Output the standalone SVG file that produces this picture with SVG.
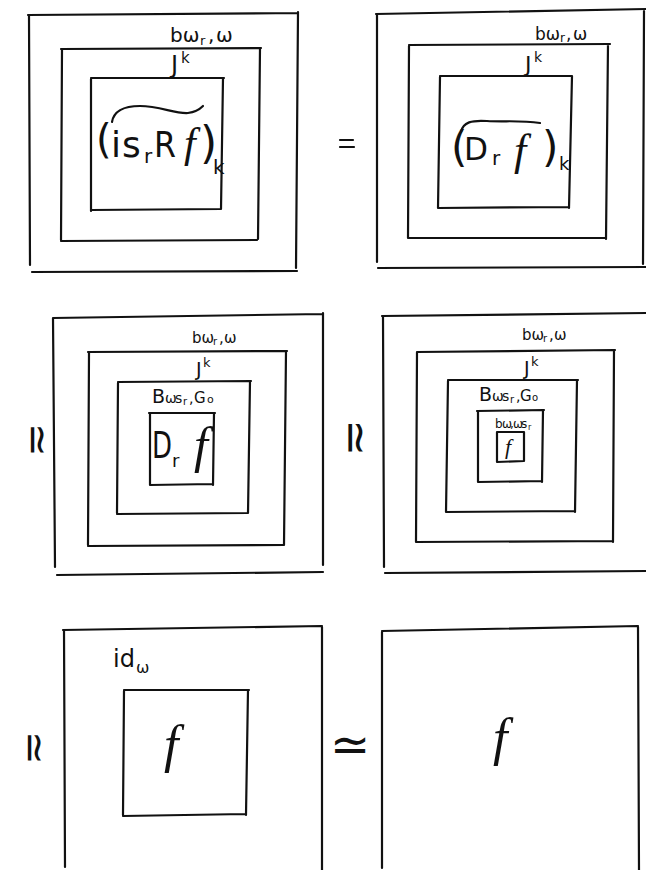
<svg xmlns="http://www.w3.org/2000/svg" width="646" height="870" viewBox="0 0 646 870">
<style>
.ln{fill:none;stroke:#111;stroke-width:2.2;stroke-linecap:round;stroke-linejoin:round}
.hw{font-family:"DejaVu Sans","Liberation Sans",sans-serif;fill:#111}
.fi{font-family:"Liberation Serif","DejaVu Serif",serif;font-style:italic;fill:#111}
.rel{font-family:"DejaVu Sans","Liberation Sans",sans-serif;fill:#111;text-anchor:middle;dominant-baseline:central}
</style>
<rect width="646" height="870" fill="#fff"/>

<g id="panel-tl">
<path class="ln" d="M28,15 L298,13 M29,16 L30,265 M298,12 L296,268 M32,272 L297,271"/>
<path class="ln" d="M61,49 L261,48 M62,49 L61,240 M260,48 L258,239 M61,241 L257,240"/>
<path class="ln" d="M91,78 L224,78 M91,79 L91,211 M223,78 L221,209 M91,210 L221,209"/>
<text class="hw" font-size="20"><tspan x="170" y="42">bω</tspan><tspan x="200" y="45" font-size="13">r</tspan><tspan x="208 216" y="42">,ω</tspan></text>
<text class="hw" font-size="24"><tspan x="171" y="73">J</tspan><tspan x="181" y="63" font-size="15">k</tspan></text>
<text class="hw" font-size="36"><tspan x="96" y="153" font-size="40">(</tspan><tspan x="111 122" y="157">is</tspan><tspan x="144" y="163" font-size="20">r</tspan><tspan x="154" y="157" textLength="22" lengthAdjust="spacingAndGlyphs">R</tspan></text>
<text class="fi" font-size="42" x="184" y="157">f</text>
<text class="hw" font-size="44" x="200" y="158">)</text>
<text class="hw" font-size="20" x="213" y="174">k</text>
<path class="ln" d="M112,122 C114,110 125,106 140,106 C160,106 175,114 188,113 C196,112 200,109 203,106"/>
</g>

<g id="panel-tr">
<path class="ln" d="M376,14 L646,9 M377,15 L377,262 M644,11 L643,264 M378,268 L646,267"/>
<path class="ln" d="M409,45 L610,44 M409,46 L408,238 M608,44 L606,239 M409,238 L606,238"/>
<path class="ln" d="M440,76 L572,76 M440,77 L438,208 M572,76 L569,208 M438,208 L569,207"/>
<text class="hw" font-size="17"><tspan x="535" y="40">bω</tspan><tspan x="560" y="42" font-size="12">r</tspan><tspan x="566 573" y="40">,ω</tspan></text>
<text class="hw" font-size="22"><tspan x="525" y="72">J</tspan><tspan x="534" y="62" font-size="14">k</tspan></text>
<text class="hw" font-size="42" x="451" y="162">(</text>
<text class="hw" font-size="32" x="464" y="160" textLength="24" lengthAdjust="spacingAndGlyphs">D</text>
<text class="hw" font-size="20" x="492" y="165">r</text>
<text class="fi" font-size="44" x="514" y="165">f</text>
<text class="hw" font-size="42" x="542" y="162">)</text>
<text class="hw" font-size="18" x="559" y="170">k</text>
<path class="ln" d="M461,132 C463,122 472,120 487,121 C505,122 520,120 540,123"/>
</g>

<g id="panel-ml">
<path class="ln" d="M53,318 L323,314 M53,318 L55,567 M323,313 L323,565 M57,575 L323,572"/>
<path class="ln" d="M88,352 L287,351 M89,353 L88,545 M286,351 L284,545 M88,546 L284,545"/>
<path class="ln" d="M118,382 L251,381 M118,383 L117,513 M250,381 L248,513 M117,514 L248,513"/>
<path class="ln" d="M149,413 L215,413 M150,414 L150,485 M214,413 L213,485 M150,485 L213,484"/>
<text class="hw" font-size="15"><tspan x="192" y="343">bω</tspan><tspan x="213" y="345" font-size="10">r</tspan><tspan x="219 224" y="343">,ω</tspan></text>
<text class="hw" font-size="19"><tspan x="196" y="376">J</tspan><tspan x="203" y="367" font-size="13">k</tspan></text>
<text class="hw" font-size="19"><tspan x="152" y="403">B</tspan><tspan x="165 175" y="403" font-size="14">ωs</tspan><tspan x="183" y="405" font-size="10">r</tspan><tspan x="189" y="403" font-size="14">,</tspan><tspan x="194" y="403" font-size="15">G</tspan><tspan x="207" y="403" font-size="11">o</tspan></text>
<text class="hw" font-size="38" x="152" y="458" textLength="20" lengthAdjust="spacingAndGlyphs">D</text>
<text class="hw" font-size="18" x="172" y="467">r</text>
<text class="fi" font-size="50" x="194" y="462">f</text>
</g>

<g id="panel-mr">
<path class="ln" d="M382,316 L646,313 M383,317 L384,567 M385,573 L646,571"/>
<path class="ln" d="M417,352 L615,350 M417,352 L416,542 M614,350 L613,542 M416,542 L613,541"/>
<path class="ln" d="M448,380 L578,380 M448,381 L446,512 M577,380 L575,512 M446,512 L575,511"/>
<path class="ln" d="M477,411 L544,410 M478,411 L478,482 M543,410 L542,482 M478,482 L542,481"/>
<path class="ln" d="M497,432 L524,432 M497,432 L497,462 M524,432 L524,461 M497,462 L524,461"/>
<text class="hw" font-size="15"><tspan x="522" y="340">bω</tspan><tspan x="543" y="342" font-size="10">r</tspan><tspan x="549 554" y="340">,ω</tspan></text>
<text class="hw" font-size="19"><tspan x="524" y="375">J</tspan><tspan x="531" y="366" font-size="13">k</tspan></text>
<text class="hw" font-size="19"><tspan x="479" y="401">B</tspan><tspan x="492 502" y="401" font-size="14">ωs</tspan><tspan x="510" y="403" font-size="10">r</tspan><tspan x="516" y="401" font-size="14">,</tspan><tspan x="520" y="401" font-size="15">G</tspan><tspan x="532" y="401" font-size="10">o</tspan></text>
<text class="hw" font-size="12"><tspan x="495 502" y="428">bω</tspan><tspan x="510 513 521" y="428">,ωs</tspan><tspan x="528" y="430" font-size="8">r</tspan></text>
<text class="fi" font-size="22" x="505" y="454">f</text>
</g>

<g id="panel-bl">
<path class="ln" d="M63,630 L322,626 M64,630 L65,867 M322,627 L322,870"/>
<path class="ln" d="M124,690 L249,690 M124,691 L123,815 M248,690 L246,815 M123,816 L246,814"/>
<text class="hw" font-size="24"><tspan x="113" y="667">id</tspan><tspan x="136" y="673" font-size="16">ω</tspan></text>
<text class="fi" font-size="52" x="164" y="762">f</text>
</g>

<g id="panel-br">
<path class="ln" d="M382,631 L638,626 M382,632 L382,868 M638,627 L639,870"/>
<text class="fi" font-size="52" x="493" y="755">f</text>
</g>

<g id="relations">
<path class="ln" d="M340,140 L353,140 M340,147 L354,147"/>
<text class="rel" font-size="40" transform="translate(38,440) rotate(90)">≃</text>
<text class="rel" font-size="44" transform="translate(356,438) rotate(90)">≃</text>
<text class="rel" font-size="40" transform="translate(35,748) rotate(90)">≃</text>
<text class="rel" font-size="48" x="350" y="744">≃</text>
</g>
</svg>
